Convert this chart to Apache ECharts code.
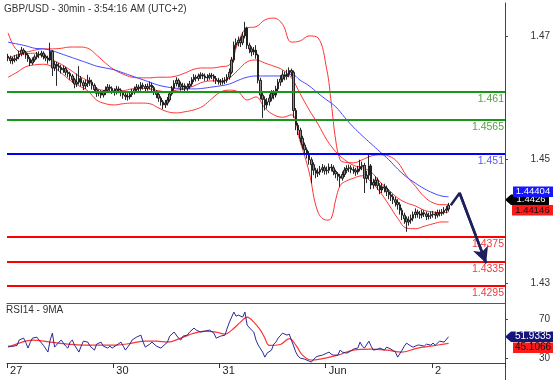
<!DOCTYPE html>
<html><head><meta charset="utf-8">
<script src="https://cdn.jsdelivr.net/npm/echarts@6/dist/echarts.min.js"></script>
<style>html,body{margin:0;padding:0;background:#fff}#c{width:557px;height:380px}</style>
</head><body><div id="c"></div>
<script>
// ---------- data ----------
const dayNames = ['27', '30', '31', 'Jun', '2'];
const barsPerDay = 48;
const totalSlots = 225;
const titleText = 'GBP/USD - 30min - 3:54:16 AM (UTC+2)';
const rsiTitle = 'RSI14 - 9MA';

// candles: [open, close, low, high]
const may27 = [
[1.4668,1.4665,1.4660,1.4672],[1.4665,1.4661,1.4656,1.4669],[1.4661,1.4662,1.4655,1.4667],[1.4662,1.4664,1.4658,1.4670],
[1.4664,1.4667,1.4660,1.4671],[1.4667,1.4672,1.4663,1.4677],[1.4672,1.4678,1.4668,1.4683],[1.4678,1.4674,1.4670,1.4681],
[1.4674,1.4670,1.4664,1.4677],[1.4670,1.4664,1.4659,1.4673],[1.4664,1.4657,1.4652,1.4667],[1.4657,1.4662,1.4654,1.4666],
[1.4662,1.4667,1.4659,1.4671],[1.4667,1.4671,1.4663,1.4675],[1.4671,1.4670,1.4665,1.4676],[1.4670,1.4673,1.4666,1.4677],
[1.4673,1.4668,1.4663,1.4676],[1.4668,1.4665,1.4660,1.4671],[1.4665,1.4662,1.4656,1.4669],[1.4662,1.4676,1.4660,1.4690],
[1.4676,1.4649,1.4636,1.4678],[1.4649,1.4655,1.4644,1.4660],[1.4655,1.4652,1.4620,1.4659],[1.4652,1.4650,1.4644,1.4657],
[1.4650,1.4646,1.4640,1.4654],[1.4646,1.4648,1.4641,1.4653],[1.4648,1.4642,1.4637,1.4651],[1.4642,1.4640,1.4634,1.4646],
[1.4640,1.4636,1.4630,1.4643],[1.4636,1.4630,1.4625,1.4639],[1.4630,1.4623,1.4616,1.4633],[1.4623,1.4626,1.4618,1.4640],
[1.4626,1.4632,1.4622,1.4652],[1.4632,1.4625,1.4619,1.4636],[1.4625,1.4620,1.4613,1.4629],[1.4620,1.4624,1.4615,1.4630],
[1.4624,1.4629,1.4618,1.4638],[1.4629,1.4626,1.4620,1.4634],[1.4626,1.4621,1.4614,1.4630],[1.4621,1.4614,1.4609,1.4624],
[1.4614,1.4608,1.4602,1.4618],[1.4608,1.4610,1.4603,1.4614],[1.4610,1.4605,1.4600,1.4613],[1.4605,1.4609,1.4601,1.4613],
[1.4609,1.4613,1.4605,1.4619],[1.4613,1.4618,1.4609,1.4623],[1.4618,1.4616,1.4611,1.4622],[1.4616,1.4612,1.4607,1.4619]
];
const may30 = [
[1.4612,1.4610,1.4604,1.4616],[1.4610,1.4615,1.4606,1.4620],[1.4615,1.4613,1.4608,1.4619],[1.4613,1.4609,1.4603,1.4616],
[1.4609,1.4605,1.4599,1.4612],[1.4605,1.4603,1.4597,1.4609],[1.4603,1.4602,1.4596,1.4608],[1.4602,1.4606,1.4598,1.4611],
[1.4606,1.4610,1.4602,1.4615],[1.4610,1.4614,1.4606,1.4619],[1.4614,1.4618,1.4610,1.4623],[1.4618,1.4616,1.4611,1.4622],
[1.4616,1.4621,1.4612,1.4626],[1.4621,1.4619,1.4614,1.4625],[1.4619,1.4616,1.4610,1.4623],[1.4616,1.4619,1.4612,1.4624],
[1.4619,1.4621,1.4614,1.4627],[1.4621,1.4617,1.4611,1.4625],[1.4617,1.4610,1.4605,1.4620],[1.4610,1.4606,1.4600,1.4613],
[1.4606,1.4600,1.4594,1.4609],[1.4600,1.4594,1.4588,1.4603],[1.4594,1.4589,1.4582,1.4597],[1.4589,1.4592,1.4584,1.4597],
[1.4592,1.4597,1.4588,1.4602],[1.4597,1.4607,1.4594,1.4611],[1.4607,1.4616,1.4604,1.4620],[1.4616,1.4624,1.4612,1.4629],
[1.4624,1.4629,1.4619,1.4634],[1.4629,1.4623,1.4617,1.4632],[1.4623,1.4618,1.4612,1.4627],[1.4618,1.4620,1.4613,1.4625],
[1.4620,1.4616,1.4610,1.4624],[1.4616,1.4619,1.4612,1.4624],[1.4619,1.4623,1.4615,1.4628],[1.4623,1.4630,1.4619,1.4634],
[1.4630,1.4634,1.4626,1.4639],[1.4634,1.4632,1.4627,1.4638],[1.4632,1.4636,1.4628,1.4640],[1.4636,1.4638,1.4631,1.4642],
[1.4638,1.4636,1.4631,1.4641],[1.4636,1.4633,1.4628,1.4640],[1.4633,1.4634,1.4628,1.4639],[1.4634,1.4637,1.4630,1.4641],
[1.4637,1.4636,1.4631,1.4641],[1.4636,1.4632,1.4627,1.4639],[1.4632,1.4629,1.4623,1.4636],[1.4629,1.4627,1.4622,1.4633]
];
const may31 = [
[1.4627,1.4626,1.4621,1.4631],[1.4626,1.4628,1.4622,1.4633],[1.4628,1.4629,1.4623,1.4634],[1.4629,1.4634,1.4625,1.4639],
[1.4634,1.4642,1.4630,1.4648],[1.4642,1.4662,1.4639,1.4667],[1.4662,1.4686,1.4658,1.4692],[1.4686,1.4690,1.4680,1.4697],
[1.4690,1.4694,1.4684,1.4700],[1.4694,1.4690,1.4683,1.4699],[1.4690,1.4701,1.4686,1.4707],[1.4701,1.4714,1.4697,1.4724],
[1.4714,1.4686,1.4680,1.4716],[1.4686,1.4680,1.4673,1.4690],[1.4680,1.4675,1.4668,1.4684],[1.4675,1.4678,1.4670,1.4683],
[1.4678,1.4670,1.4664,1.4686],[1.4670,1.4629,1.4624,1.4672],[1.4629,1.4605,1.4598,1.4633],[1.4605,1.4598,1.4568,1.4610],
[1.4598,1.4589,1.4580,1.4603],[1.4589,1.4594,1.4583,1.4600],[1.4594,1.4600,1.4588,1.4606],[1.4600,1.4608,1.4595,1.4613],
[1.4608,1.4605,1.4598,1.4613],[1.4605,1.4615,1.4601,1.4620],[1.4615,1.4626,1.4611,1.4631],[1.4626,1.4631,1.4620,1.4637],
[1.4631,1.4638,1.4626,1.4645],[1.4638,1.4635,1.4629,1.4643],[1.4635,1.4639,1.4630,1.4646],[1.4639,1.4645,1.4634,1.4650],
[1.4645,1.4642,1.4635,1.4648],[1.4642,1.4580,1.4568,1.4645],[1.4580,1.4556,1.4548,1.4584],[1.4556,1.4548,1.4540,1.4560],
[1.4548,1.4535,1.4528,1.4552],[1.4535,1.4524,1.4518,1.4539],[1.4524,1.4516,1.4508,1.4528],[1.4516,1.4510,1.4502,1.4520],
[1.4510,1.4500,1.4492,1.4514],[1.4500,1.4492,1.4462,1.4504],[1.4492,1.4483,1.4475,1.4496],[1.4483,1.4478,1.4470,1.4487],
[1.4478,1.4480,1.4472,1.4486],[1.4480,1.4484,1.4475,1.4490],[1.4484,1.4487,1.4479,1.4493],[1.4487,1.4482,1.4476,1.4491]
];
const jun1 = [
[1.4482,1.4483,1.4476,1.4489],[1.4483,1.4488,1.4478,1.4494],[1.4488,1.4487,1.4481,1.4493],[1.4487,1.4481,1.4475,1.4491],
[1.4481,1.4477,1.4470,1.4484],[1.4477,1.4473,1.4466,1.4480],[1.4473,1.4470,1.4456,1.4477],[1.4470,1.4476,1.4466,1.4481],
[1.4476,1.4483,1.4472,1.4488],[1.4483,1.4486,1.4478,1.4491],[1.4486,1.4487,1.4480,1.4492],[1.4487,1.4484,1.4478,1.4491],
[1.4484,1.4483,1.4477,1.4489],[1.4483,1.4480,1.4474,1.4487],[1.4480,1.4485,1.4476,1.4490],[1.4485,1.4489,1.4481,1.4500],
[1.4489,1.4491,1.4483,1.4497],[1.4491,1.4470,1.4446,1.4495],[1.4470,1.4475,1.4462,1.4482],[1.4475,1.4490,1.4468,1.4508],
[1.4490,1.4459,1.4452,1.4493],[1.4459,1.4463,1.4453,1.4469],[1.4463,1.4467,1.4457,1.4473],[1.4467,1.4458,1.4451,1.4471],
[1.4458,1.4451,1.4444,1.4462],[1.4451,1.4456,1.4446,1.4462],[1.4456,1.4454,1.4447,1.4461],[1.4454,1.4448,1.4441,1.4458],
[1.4448,1.4443,1.4436,1.4452],[1.4443,1.4440,1.4433,1.4448],[1.4440,1.4435,1.4428,1.4444],[1.4435,1.4431,1.4424,1.4440],
[1.4431,1.4427,1.4419,1.4436],[1.4427,1.4418,1.4411,1.4431],[1.4418,1.4410,1.4402,1.4422],[1.4410,1.4404,1.4396,1.4414],
[1.4404,1.4399,1.4383,1.4408],[1.4399,1.4402,1.4393,1.4408],[1.4402,1.4405,1.4396,1.4411],[1.4405,1.4411,1.4400,1.4416],
[1.4411,1.4415,1.4405,1.4421],[1.4415,1.4412,1.4406,1.4419],[1.4412,1.4410,1.4404,1.4417],[1.4410,1.4414,1.4405,1.4419],
[1.4414,1.4412,1.4407,1.4418],[1.4412,1.4408,1.4402,1.4416],[1.4408,1.4409,1.4403,1.4414],[1.4409,1.4411,1.4404,1.4416]
];
const jun2 = [
[1.4411,1.4412,1.4406,1.4417],[1.4412,1.4410,1.4404,1.4416],[1.4410,1.4414,1.4406,1.4419],[1.4414,1.4413,1.4408,1.4419],
[1.4413,1.4415,1.4409,1.4420],[1.4415,1.4418,1.4411,1.4423],[1.4418,1.4420,1.4413,1.4425],[1.4420,1.4426,1.4416,1.4430]
];

// indicator lines sampled at bar indexes
const bandIdx = [0,4,8,12,16,20,24,28,32,36,40,44,48,52,56,60,64,68,72,76,80,84,88,92,96,100,104,108,112,116,120,124,128,132,136,140,144,146,148,150,152,156,160,164,168,172,176,180,184,188,192,196,199];
const bbUpper = [1.4706,1.4678,1.4675,1.4678,1.4680,1.4680,1.4681,1.4683,1.4683,1.4681,1.4670,1.4657,1.4646,1.4639,1.4634,1.4633,1.4633,1.4634,1.4634,1.4636,1.4641,1.4647,1.4649,1.4649,1.4651,1.4654,1.4691,1.4714,1.4716,1.4727,1.4730,1.4720,1.4691,1.4693,1.4701,1.4698,1.4646,1.4592,1.4532,1.4500,1.4496,1.4495,1.4500,1.4506,1.4508,1.4506,1.4496,1.4474,1.4457,1.4440,1.4430,1.4427,1.4427];
const bbMiddle = [1.4665,1.4670,1.4672,1.4673,1.4668,1.4662,1.4655,1.4646,1.4636,1.4628,1.4616,1.4612,1.4610,1.4612,1.4615,1.4616,1.4615,1.4612,1.4610,1.4613,1.4615,1.4620,1.4626,1.4628,1.4628,1.4633,1.4646,1.4659,1.4662,1.4657,1.4652,1.4646,1.4633,1.4607,1.4581,1.4558,1.4532,1.4522,1.4513,1.4506,1.4500,1.4491,1.4487,1.4480,1.4464,1.4451,1.4438,1.4430,1.4425,1.4418,1.4415,1.4414,1.4415];
const bbLower = [1.4634,1.4642,1.4651,1.4654,1.4655,1.4651,1.4641,1.4629,1.4620,1.4612,1.4597,1.4591,1.4589,1.4591,1.4592,1.4592,1.4591,1.4584,1.4578,1.4576,1.4578,1.4581,1.4587,1.4599,1.4610,1.4613,1.4610,1.4597,1.4602,1.4584,1.4573,1.4569,1.4573,1.4529,1.4480,1.4415,1.4402,1.4405,1.4435,1.4458,1.4464,1.4470,1.4474,1.4464,1.4448,1.4427,1.4405,1.4389,1.4388,1.4392,1.4396,1.4399,1.4399];
const maLine = [1.4691,1.4688,1.4685,1.4681,1.4680,1.4677,1.4672,1.4667,1.4662,1.4657,1.4652,1.4649,1.4646,1.4641,1.4636,1.4631,1.4626,1.4621,1.4618,1.4616,1.4615,1.4615,1.4616,1.4618,1.4620,1.4623,1.4629,1.4634,1.4636,1.4636,1.4636,1.4636,1.4639,1.4629,1.4620,1.4608,1.4597,1.4592,1.4586,1.4578,1.4569,1.4553,1.4539,1.4526,1.4513,1.4500,1.4485,1.4472,1.4462,1.4453,1.4446,1.4441,1.4440];

// horizontal levels
const levels = [1.461, 1.4565, 1.451, 1.4375, 1.4335, 1.4295];
const levelLabels = ['1.461', '1.4565', '1.451', '1.4375', '1.4335', '1.4295'];
const levelLineColors = ['#1a961a', '#1a961a', '#0000ff', '#ff0000', '#ff0000', '#ff0000'];
const levelTextColors = ['#55a33a', '#55a33a', '#5a5af0', '#f03c3c', '#f03c3c', '#f03c3c'];

// forecast arrow path
const arrowIdx = [200, 204, 216];
const arrowVal = [1.4426, 1.4446, 1.4332];

// axis ticks
const priceTicks = [1.43, 1.45, 1.47];
const rsiTicks = [30, 70];

// RSI
const rsiIdx = [0,2,4,5,7,8,9,10,11,13,14,16,18,19,20,21,23,24,26,27,28,29,30,32,33,34,36,37,39,40,42,43,45,46,47,49,51,52,53,55,56,58,60,61,62,64,65,67,69,70,72,73,75,77,78,79,81,82,84,85,87,89,91,93,94,96,98,99,100,102,103,104,106,107,108,110,111,112,113,115,116,117,119,120,121,122,124,126,127,128,130,131,132,134,135,136,137,139,140,142,144,145,146,147,149,150,151,153,154,156,158,159,160,161,163,164,165,167,168,170,171,173,175,176,178,179,180,182,183,185,186,188,189,191,192,193,195,197,199];
const rsiVal = [42.3,42.0,43.0,48.5,50.5,46.0,40.3,46.0,50.5,51.5,48.5,43.0,36.2,48.5,55.6,41.3,46.4,48.5,42.3,40.3,46.4,48.5,43.3,36.2,42.3,47.4,46.4,42.3,38.2,44.3,46.4,42.3,40.3,42.3,40.3,43.3,46.4,42.3,38.2,44.3,48.5,51.5,53.6,46.4,41.3,44.3,46.4,42.3,40.3,42.3,46.4,52.5,56.7,50.5,48.5,52.5,53.6,56.7,60.8,58.7,56.7,57.7,58.7,55.6,50.5,52.5,53.6,60.8,66.9,77.2,73.0,74.1,72.1,77.2,63.8,58.7,56.7,48.5,43.3,36.2,31.0,35.1,38.2,44.3,46.4,50.5,55.6,53.6,54.6,48.5,36.2,32.0,30.0,29.0,27.9,26.9,25.9,31.0,32.0,33.1,35.1,36.2,34.0,33.1,33.1,38.2,36.2,35.1,36.2,39.2,40.3,46.4,42.3,40.3,47.4,42.3,38.2,39.2,40.3,38.2,41.3,39.2,36.2,31.0,38.2,42.3,45.4,42.3,41.3,43.3,43.3,42.3,44.3,43.3,45.4,43.3,47.4,46.4,51.9335];
const maIdx = [0,5,11,19,27,34,42,49,56,62,67,72,78,84,89,94,98,101,105,108,111,114,116,118,123,127,130,133,137,141,149,156,164,171,178,185,191,199];
const maVal = [41.3,45.4,48.5,46.4,44.3,43.3,43.3,43.3,45.4,47.4,47.4,46.4,50.5,55.6,57.7,56.7,54.6,58.7,66.9,72.1,66.9,58.7,50.5,43.0,44.0,50.0,43.3,33.1,27.9,29.0,33.1,38.2,39.2,38.2,36.2,40.3,42.3,45.1066];

// last values shown on the axis
const lastMA = 1.44404, lastClose = 1.4426, lastMid = 1.44146;
const lastRsi = 51.9335, lastRsiMA = 45.1066;

// ---------- build ----------
const candles = [].concat(may27, may30, may31, jun1, jun2);
const categories = [];
for (let s = 0; s < totalSlots; s++) {
  const d = dayNames[Math.min(dayNames.length - 1, Math.floor(s / barsPerDay))];
  const m = (s % barsPerDay) * 30;
  categories.push(d + '|' + String(Math.floor(m / 60)).padStart(2, '0') + ':' + String(m % 60).padStart(2, '0'));
}
const pairs = (idx, vals) => idx.map((k, j) => [k, vals[j]]);
const FONT = 'Liberation Sans, Arial, sans-serif';

const chart = echarts.init(document.getElementById('c'), null, { renderer: 'canvas' });
const dayStart = (i) => i % barsPerDay === 0;

chart.setOption({
  animation: false,
  backgroundColor: '#fff',
  textStyle: { fontFamily: FONT },
  title: [
    { text: titleText, left: 4, top: 4, padding: 0, textStyle: { fontSize: 10, fontWeight: 'normal', color: '#333', fontFamily: FONT } },
    { text: rsiTitle, left: 6, top: 305, padding: 0, textStyle: { fontSize: 10, fontWeight: 'normal', color: '#333', fontFamily: FONT } }
  ],
  grid: [
    { left: 7, right: 52, top: 3, height: 300 },
    { left: 7, right: 52, top: 303, height: 60 }
  ],
  xAxis: [
    { type: 'category', gridIndex: 0, data: categories, boundaryGap: true,
      axisLine: { show: false }, axisTick: { show: false }, axisLabel: { show: false }, splitLine: { show: false } },
    { type: 'category', gridIndex: 1, data: categories, boundaryGap: true, position: 'bottom',
      axisLine: { show: true, lineStyle: { color: '#444', width: 1 } },
      axisTick: { show: true, interval: (i) => dayStart(i), length: 5, lineStyle: { color: '#333' } },
      axisLabel: { show: true, interval: (i) => dayStart(i), formatter: (v) => v.split('|')[0], align: 'left',
        padding: [0, 0, 0, 2], margin: 2, fontSize: 11, color: '#222', fontFamily: FONT },
      splitLine: { show: false } },
    { type: 'category', gridIndex: 1, data: categories, boundaryGap: true, position: 'top',
      axisLine: { show: true, lineStyle: { color: '#555', width: 1.2 } },
      axisTick: { show: false }, axisLabel: { show: false }, splitLine: { show: false } }
  ],
  yAxis: [
    { type: 'value', gridIndex: 0, position: 'right', min: 1.42674, max: 1.47545,
      splitLine: { show: false },
      axisLine: { show: true, lineStyle: { color: '#444', width: 1 } },
      axisTick: { show: true, length: 3, customValues: priceTicks, lineStyle: { color: '#444' } },
      axisLabel: { customValues: priceTicks, formatter: (v) => v.toFixed(2), align: 'right', margin: 45,
        fontSize: 10, color: '#333', fontFamily: FONT } },
    { type: 'value', gridIndex: 1, position: 'right', min: 25, max: 86.5,
      splitLine: { show: false },
      axisLine: { show: true, lineStyle: { color: '#444', width: 1 } },
      axisTick: { show: true, length: 3, customValues: rsiTicks, lineStyle: { color: '#444' } },
      axisLabel: { customValues: rsiTicks, formatter: (v) => String(Math.round(v)), align: 'right', margin: 45,
        fontSize: 10, color: '#333', fontFamily: FONT } }
  ],
  series: [
    { name: 'levels', type: 'line', xAxisIndex: 0, yAxisIndex: 0, data: [], symbol: 'none', z: 1,
      markLine: { silent: true, animation: false, symbol: ['none', 'none'], precision: 5,
        data: levels.map((v, k) => ({
          yAxis: v,
          lineStyle: { color: levelLineColors[k], width: 2, type: 'solid' },
          label: { show: true, position: 'insideEndBottom', formatter: levelLabels[k], color: levelTextColors[k],
            fontSize: 10.5, distance: [1, 2], fontFamily: FONT }
        })) } },
    { name: 'BB upper', type: 'line', xAxisIndex: 0, yAxisIndex: 0, data: pairs(bandIdx, bbUpper), smooth: 0.4,
      symbol: 'none', lineStyle: { color: '#ff3333', width: 1 }, z: 3 },
    { name: 'BB middle', type: 'line', xAxisIndex: 0, yAxisIndex: 0, data: pairs(bandIdx, bbMiddle), smooth: 0.4,
      symbol: 'none', lineStyle: { color: '#ff3333', width: 1 }, z: 3 },
    { name: 'BB lower', type: 'line', xAxisIndex: 0, yAxisIndex: 0, data: pairs(bandIdx, bbLower), smooth: 0.4,
      symbol: 'none', lineStyle: { color: '#ff3333', width: 1 }, z: 3 },
    { name: 'MA', type: 'line', xAxisIndex: 0, yAxisIndex: 0, data: pairs(bandIdx, maLine), smooth: 0.4,
      symbol: 'none', lineStyle: { color: '#4444ff', width: 1 }, z: 3 },
    { name: 'GBP/USD', type: 'candlestick', xAxisIndex: 0, yAxisIndex: 0, data: candles, barWidth: 2, z: 4,
      itemStyle: { color: '#8a8a8a', color0: '#8a8a8a', borderColor: '#111', borderColor0: '#111', borderWidth: 0.9 } },
    { name: 'arrow', type: 'line', xAxisIndex: 0, yAxisIndex: 0, data: pairs(arrowIdx, arrowVal), symbol: 'none', z: 6,
      lineStyle: { color: '#1d1f5e', width: 2.5 },
      markLine: { silent: true, animation: false, symbol: ['none', 'arrow'], symbolSize: [12, 16], precision: 5,
        lineStyle: { color: '#1d1f5e', width: 2.5, type: 'solid' }, label: { show: false },
        data: [[{ coord: [categories[arrowIdx[1]], arrowVal[1]] }, { coord: [categories[arrowIdx[2]], arrowVal[2]] }]] } },
    { name: 'RSI14', type: 'line', xAxisIndex: 1, yAxisIndex: 1, data: pairs(rsiIdx, rsiVal), symbol: 'none',
      lineStyle: { color: '#2a2a96', width: 1 }, z: 4 },
    { name: '9MA', type: 'line', xAxisIndex: 1, yAxisIndex: 1, data: pairs(maIdx, maVal), symbol: 'none', smooth: 0.4,
      lineStyle: { color: '#ff3333', width: 1.2 }, z: 3 }
  ]
});

// value markers on the right axis, placed with the axis scales
function marker(x0, cy, w, fill, txt, txtColor, pointer, fs) {
  const h = 10.5;
  const shape = pointer
    ? { type: 'polygon', shape: { points: [[505, cy], [x0, cy - h / 2], [x0 + w, cy - h / 2], [x0 + w, cy + h / 2], [x0, cy + h / 2]] }, style: { fill: fill } }
    : { type: 'rect', shape: { x: x0, y: cy - h / 2, width: w, height: h }, style: { fill: fill } };
  return [shape, { type: 'text', x: x0 + w / 2 + (pointer ? 1 : 0), y: cy, style: { text: txt, fill: txtColor, font: fs + 'px ' + FONT, align: 'center', verticalAlign: 'middle' } }];
}
const pClose = chart.convertToPixel({ yAxisIndex: 0 }, lastClose);
const blackC = pClose - 5.5;
const pRsi = chart.convertToPixel({ yAxisIndex: 1 }, lastRsi);
const g = [].concat(
  marker(511, blackC, 38, '#000', String(lastClose), '#fff', true, 9.5),
  marker(513, blackC - 8, 40, '#1616ff', String(lastMA), '#fff', false, 9.5),
  marker(512, blackC + 10.5, 41, '#ff1a1a', String(lastMid), '#111', false, 9.5),
  marker(511, pRsi, 42, '#15157a', String(lastRsi), '#fff', true, 10),
  marker(513, pRsi + 11, 40, '#ff1a1a', String(lastRsiMA), '#111', false, 10),
  [{ type: 'line', shape: { x1: 505.5, y1: 363, x2: 505.5, y2: 380 }, style: { stroke: '#444', lineWidth: 1 } }]
);
chart.setOption({ graphic: g });
</script>
</body></html>
